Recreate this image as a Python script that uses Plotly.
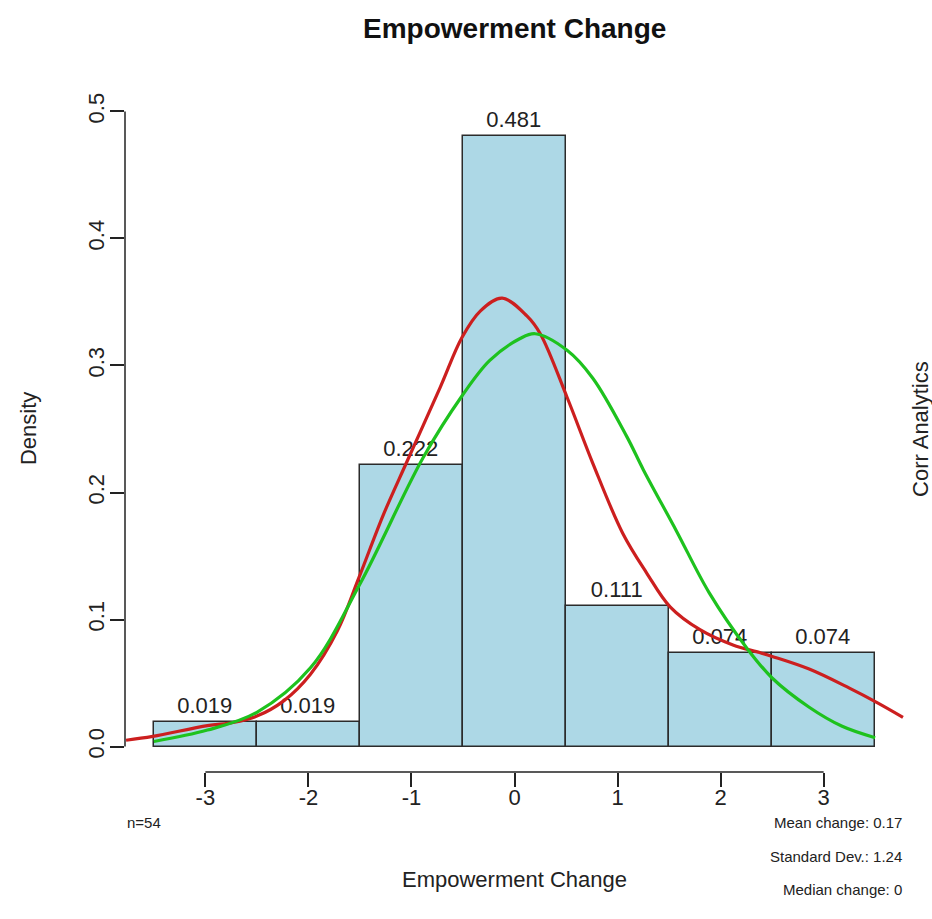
import plotly.graph_objects as go

# Histogram of empowerment change (density scale), n = 54
bin_mids = [-3, -2, -1, 0, 1, 2, 3]
densities = [0.019, 0.019, 0.222, 0.481, 0.111, 0.074, 0.074]

# Kernel density estimate (red)
kde_x = [-3.77, -3.51, -2.98, -2.73, -2.50, -2.24, -1.98, -1.72, -1.51, -1.27,
         -1.04, -0.72, -0.51, -0.33, -0.12, 0.12, 0.25, 0.51, 0.76,
         1.05, 1.28, 1.51, 1.80, 2.12, 2.38, 2.50, 2.86, 3.25, 3.51, 3.77]
kde_y = [0.005, 0.008, 0.0165, 0.019, 0.024, 0.036, 0.057, 0.091, 0.133, 0.183,
         0.225, 0.283, 0.322, 0.343, 0.353, 0.339, 0.325, 0.275, 0.223,
         0.168, 0.137, 0.110, 0.092, 0.080, 0.074, 0.071, 0.061, 0.046, 0.035, 0.023]

# Fitted normal curve (green)
norm_x = [-3.50, -2.98, -2.50, -1.98, -1.50, -0.89, -0.51, -0.24, 0.05, 0.20,
          0.51, 0.76, 1.09, 1.25, 1.57, 1.89, 2.25, 2.50, 2.86, 3.18, 3.50]
norm_y = [0.004, 0.013, 0.027, 0.062, 0.128, 0.227, 0.276, 0.304, 0.321, 0.325,
          0.312, 0.290, 0.244, 0.218, 0.170, 0.121, 0.078, 0.054, 0.031, 0.016, 0.007]

x_ticks = [-3, -2, -1, 0, 1, 2, 3]
x_ticktext = ["-3", "-2", "-1", "0", "1", "2", "3"]
y_ticks = [0.0, 0.1, 0.2, 0.3, 0.4, 0.5]
y_ticktext = ["0.0", "0.1", "0.2", "0.3", "0.4", "0.5"]

n_obs = 54
mean_change = 0.17
sd_change = 1.24
median_change = 0

FONT = "Liberation Sans, Arial, sans-serif"
INK = "#222222"

fig = go.Figure()

fig.add_trace(go.Bar(
    x=bin_mids, y=densities, width=1.0,
    marker=dict(color="#ADD8E6", line=dict(color="#2b2b2b", width=1.5)),
    text=[f"{d:.3f}" for d in densities], textposition="outside",
    textfont=dict(family=FONT, size=22, color=INK),
    cliponaxis=False, showlegend=False,
))

fig.add_trace(go.Scatter(
    x=kde_x, y=kde_y, mode="lines",
    line=dict(color="#CC1F1F", width=3.2, shape="spline", smoothing=1.0),
    showlegend=False,
))
fig.add_trace(go.Scatter(
    x=norm_x, y=norm_y, mode="lines",
    line=dict(color="#1EC21E", width=3.2, shape="spline", smoothing=1.0),
    showlegend=False,
))

# Axis lines covering only the tick span
fig.add_shape(type="line", xref="x", yref="paper", x0=-3, x1=3, y0=0, y1=0,
              line=dict(color=INK, width=1.5))
fig.add_shape(type="line", xref="paper", yref="y", x0=0, x1=0, y0=0, y1=0.5,
              line=dict(color=INK, width=1.5))

annotations = [
    dict(text="<b>Empowerment Change</b>", x=0.5, y=1.0845, xref="paper", yref="paper",
         showarrow=False, font=dict(family=FONT, size=28, color="#111111"),
         xanchor="center", yanchor="middle"),
    dict(text="Empowerment Change", x=0.5, y=-0.1574, xref="paper", yref="paper",
         showarrow=False, font=dict(family=FONT, size=22, color=INK),
         xanchor="center", yanchor="middle"),
    dict(text="Density", x=-0.1245, y=0.5, xref="paper", yref="paper", textangle=-90,
         showarrow=False, font=dict(family=FONT, size=22, color=INK),
         xanchor="center", yanchor="middle"),
    dict(text="Corr Analytics", x=1.0205, y=0.5, xref="paper", yref="paper", textangle=-90,
         showarrow=False, font=dict(family=FONT, size=22, color=INK),
         xanchor="center", yanchor="middle"),
    dict(text=f"n={n_obs}", x=0, y=-0.0729, xref="paper", yref="paper",
         showarrow=False, font=dict(family=FONT, size=15, color=INK),
         xanchor="left", yanchor="middle"),
    dict(text=f"Mean change: {mean_change}", x=1, y=-0.0743, xref="paper", yref="paper",
         showarrow=False, font=dict(family=FONT, size=15, color=INK),
         xanchor="right", yanchor="middle"),
    dict(text=f"Standard Dev.: {sd_change}", x=1, y=-0.1239, xref="paper", yref="paper",
         showarrow=False, font=dict(family=FONT, size=15, color=INK),
         xanchor="right", yanchor="middle"),
    dict(text=f"Median change: {median_change}", x=1, y=-0.172, xref="paper", yref="paper",
         showarrow=False, font=dict(family=FONT, size=15, color=INK),
         xanchor="right", yanchor="middle"),
]

fig.update_layout(
    width=932, height=919,
    margin=dict(l=125, r=28, t=86, b=147, pad=0),
    paper_bgcolor="white", plot_bgcolor="white",
    bargap=0,
    annotations=annotations,
    xaxis=dict(range=[-3.78, 3.78], tickvals=x_ticks, ticktext=x_ticktext,
               ticks="outside", ticklen=14, tickwidth=1.5, tickcolor=INK,
               ticklabelstandoff=-8, showgrid=False, zeroline=False, showline=False,
               tickfont=dict(family=FONT, size=22, color=INK)),
    yaxis=dict(range=[-0.02, 0.52], tickvals=y_ticks, ticktext=y_ticktext, ticks="outside",
               ticklen=14, tickwidth=1.5, tickcolor=INK, tickangle=-90, ticklabelstandoff=-3,
               showgrid=False, zeroline=False, showline=False,
               tickfont=dict(family=FONT, size=22, color=INK)),
    font=dict(family=FONT),
)

fig.write_html("out.html")
